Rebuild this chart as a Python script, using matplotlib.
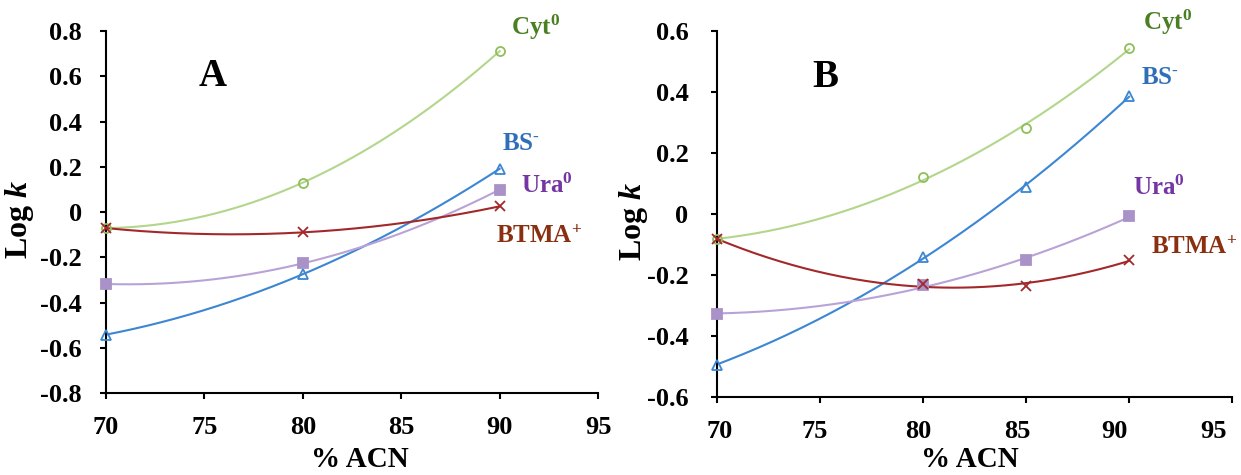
import numpy as np
import matplotlib
matplotlib.use('Agg')
import matplotlib.pyplot as plt
import matplotlib.transforms as mtransforms

plt.rcParams['font.family'] = ['Liberation Serif', 'DejaVu Serif']
plt.rcParams['font.weight'] = 'bold'
plt.rcParams['mathtext.fontset'] = 'custom'
plt.rcParams['mathtext.rm'] = 'Liberation Serif:bold'
plt.rcParams['mathtext.it'] = 'Liberation Serif:italic:bold'
plt.rcParams['mathtext.bf'] = 'Liberation Serif:bold'
plt.rcParams['axes.unicode_minus'] = False

# 面板A数据 (70, 80, 90 % ACN)
x_a = [70, 80, 90]
cyt_a = [-0.071, 0.130, 0.711]
bs_a = [-0.542, -0.275, 0.191]
ura_a = [-0.318, -0.227, 0.099]
btma_a = [-0.071, -0.090, 0.025]

# 面板B数据 (70, 80, 85, 90 % ACN)
x_b = [70, 80, 85, 90]
cyt_b = [-0.083, 0.121, 0.282, 0.545]
bs_b = [-0.494, -0.141, 0.089, 0.387]
ura_b = [-0.327, -0.234, -0.152, -0.007]
btma_b = [-0.083, -0.231, -0.237, -0.150]

x_ticks = [70, 75, 80, 85, 90, 95]
y_ticks_a = [-0.8, -0.6, -0.4, -0.2, 0, 0.2, 0.4, 0.6, 0.8]
y_labels_a = ['-0.8', '-0.6', '-0.4', '-0.2', '0', '0.2', '0.4', '0.6', '0.8']
y_ticks_b = [-0.6, -0.4, -0.2, 0, 0.2, 0.4, 0.6]
y_labels_b = ['-0.6', '-0.4', '-0.2', '0', '0.2', '0.4', '0.6']

names = [r'Cyt$^{0}$', r'BS$^{\text{-}}$', r'Ura$^{0}$', r'BTMA$^{+}$']

# 样式
styles = [
    dict(line='#b3d68c', mk='o', mfc='none', mec='#8fbf5a', txt='#4a7f22'),
    dict(line='#3c86d3', mk='^', mfc='none', mec='#3c86d3', txt='#2f6fb8'),
    dict(line='#b9a3d6', mk='s', mfc='#a992c8', mec='#a992c8', txt='#7436a4'),
    dict(line='#a3282a', mk='x', mfc='#a3282a', mec='#a3282a', txt='#8a2f10'),
]

fig = plt.figure(figsize=(12.41, 4.75), dpi=100)
ax_a = fig.add_axes([0.0854, 0.1726, 0.3965, 0.7621])
ax_b = fig.add_axes([0.5778, 0.1642, 0.4150, 0.7705])


def draw(ax, x, series, yt, yl, ylim, letter, letter_pos, label_pos, ypad, ylab_x, xlab_x, xlab_y):
    xs = np.linspace(min(x), max(x), 200)
    for vals, st in zip(series, styles):
        # 二次多项式趋势线
        c = np.polyfit(x, vals, 2)
        ax.plot(xs, np.polyval(c, xs), color=st['line'], lw=1.5, zorder=2)
        ax.plot(x, vals, linestyle='none', marker=st['mk'], ms=6.5,
                mfc=st['mfc'], mec=st['mec'], mew=1.3, zorder=3, clip_on=False)
    for name, st, (tx, ty) in zip(names, styles, label_pos):
        ax.text(tx, ty, name, color=st['txt'], fontsize=18, fontweight='bold',
                ha='left', va='center', clip_on=False)
    ax.text(letter_pos[0], letter_pos[1], letter, fontsize=28, fontweight='bold',
            ha='center', va='center')
    ax.set_xlim(70, 95)
    ax.set_ylim(*ylim)
    ax.set_xticks(x_ticks)
    ax.set_xticklabels([str(t) for t in x_ticks])
    ax.set_yticks(yt)
    ax.set_yticklabels(yl)
    for s in ['top', 'right']:
        ax.spines[s].set_visible(False)
    for s in ['left', 'bottom']:
        ax.spines[s].set_linewidth(1.5)
    ax.tick_params(axis='both', direction='out', length=4.5, width=1.5, labelsize=19)
    ax.tick_params(axis='x', pad=12)
    ax.tick_params(axis='y', pad=ypad)
    ax.set_xlabel('% ACN', fontsize=21, fontweight='bold')
    ax.set_ylabel(r'Log $k$', fontsize=23, fontweight='bold')
    ax.xaxis.label.set_va('center')
    ax.xaxis.set_label_coords(xlab_x, xlab_y)
    ax.yaxis.label.set_va('center')
    ax.yaxis.set_label_coords(ylab_x, 0.48)


draw(ax_a, x_a, [cyt_a, bs_a, ura_a, btma_a], y_ticks_a, y_labels_a, (-0.8, 0.8), 'A',
     (75.4, 0.597), [(90.6, 0.818), (90.1, 0.305), (91.1, 0.115), (89.8, -0.110)],
     13, -0.175, 0.516, -0.185)
draw(ax_b, x_b, [cyt_b, bs_b, ura_b, btma_b], y_ticks_b, y_labels_b, (-0.6, 0.6), 'B',
     (75.24, 0.449), [(90.68, 0.63), (90.58, 0.449), (90.19, 0.085), (91.07, -0.111)],
     16, -0.163, 0.49, -0.172)

# 面板B的刻度标签在原图中略向左偏移
b_label_shift = [3, -5, -5, -9, -15, -19]
for lab, dx in zip(ax_b.get_xticklabels(), b_label_shift):
    lab.set_transform(lab.get_transform() + mtransforms.ScaledTranslation(dx / 100, 0, fig.dpi_scale_trans))

fig.savefig('out.png', dpi=100)
